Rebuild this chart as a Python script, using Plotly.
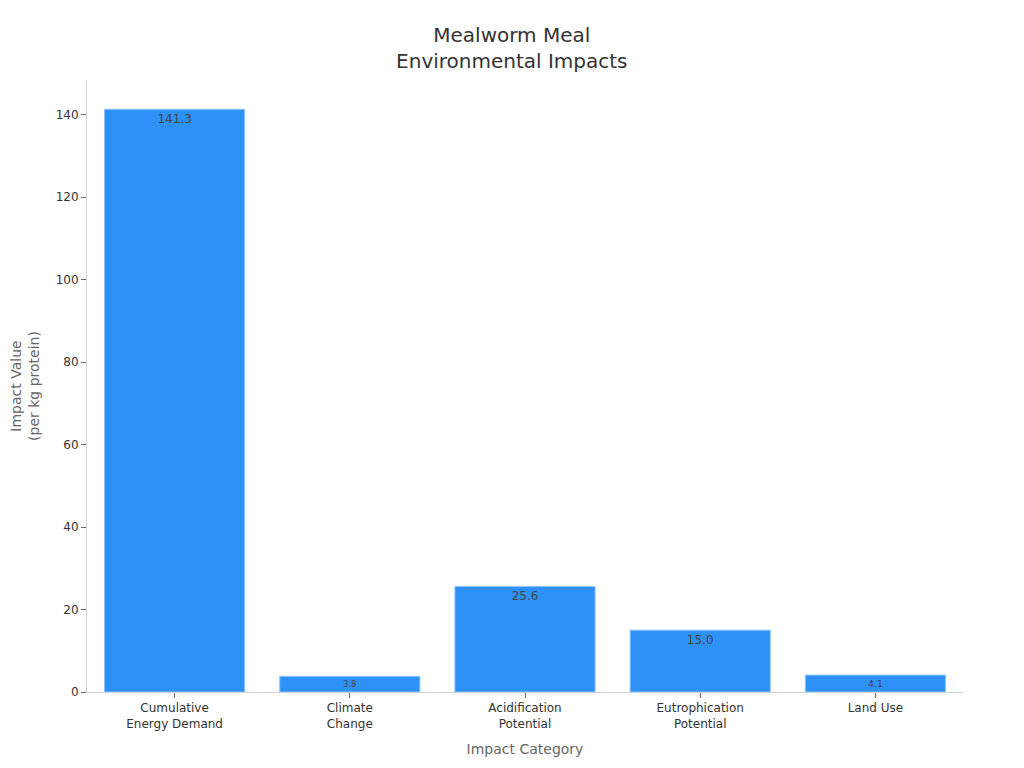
import plotly.graph_objects as go

categories = ["Cumulative<br>Energy Demand", "Climate<br>Change", "Acidification<br>Potential",
              "Eutrophication<br>Potential", "Land Use"]
impact_values = [141.3, 3.8, 25.6, 15.0, 4.1]
value_labels = ["%.1f" % v for v in impact_values]

fig = go.Figure(go.Bar(
    x=categories,
    y=impact_values,
    text=value_labels,
    textposition="inside",
    insidetextanchor="end",
    textangle=0,
    textfont=dict(color="#444444", size=12),
    marker=dict(color="#2E91F8", line=dict(color="#8CC4FB", width=1)),
))

fig.update_layout(
    width=1024, height=768,
    template="plotly_white",
    font=dict(family="DejaVu Sans", size=12, color="#333333"),
    title=dict(text="Mealworm Meal<br>Environmental Impacts", x=0.492, xanchor="center",
               y=0.956, yanchor="top", font=dict(size=20, color="#333333")),
    margin=dict(l=79, r=69, t=72, b=84),
    bargap=0.2,
    showlegend=False,
    plot_bgcolor="white",
    xaxis=dict(
        title=dict(text="Impact Category", font=dict(size=14, color="#666666"), standoff=14),
        showgrid=False, showline=True, linecolor="#d0d0d0", linewidth=1,
        ticks="outside", ticklen=5, tickcolor="#666666", automargin=False,
    ),
    yaxis=dict(
        title=dict(text="Impact Value<br>(per kg protein)", font=dict(size=14, color="#666666"), standoff=18),
        showgrid=False, showline=True, linecolor="#d0d0d0", linewidth=1,
        ticks="outside", ticklen=5, tickcolor="#666666", automargin=False,
        range=[0, 148.4], zeroline=False, dtick=20,
    ),
)

fig.write_html("out.html")
